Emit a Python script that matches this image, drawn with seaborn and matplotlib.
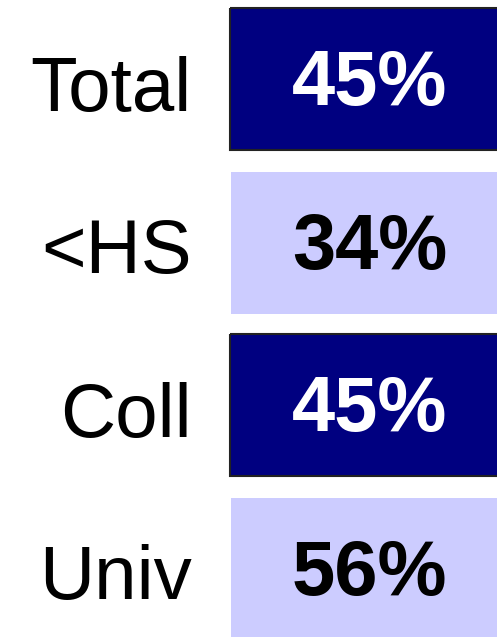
import numpy as np
import matplotlib
matplotlib.use('Agg')
import matplotlib.pyplot as plt
import matplotlib.transforms as mtransforms
from matplotlib.colors import ListedColormap
from matplotlib.patches import Rectangle
import seaborn as sns

# --- data ---
groups = ['Total', '<HS', 'Coll', 'Univ']
values = [45, 34, 45, 56]
shade = [1, 0, 1, 0]   # 1 = dark cell, 0 = light cell

navy = '#000080'
lavender = '#CCCCFF'

sns.set_theme(style='white')
plt.rcParams['font.family'] = ['Liberation Sans', 'DejaVu Sans']

W, H = 497, 637
fig = plt.figure(figsize=(W / 100, H / 100), dpi=100)

# axes in pixel terms (top-left origin), gaps drawn as white cell lines
gap = 21
left, top = 219.5, -2.5
ax_w, ax_h = 300.5, 652
ax = fig.add_axes([left / W, 1 - (top + ax_h) / H, ax_w / W, ax_h / H])

data = np.array(shade).reshape(-1, 1)
annot = np.array([f'{v}%' for v in values]).reshape(-1, 1)

sns.heatmap(data, ax=ax, cmap=ListedColormap([lavender, navy]), vmin=0, vmax=1,
            cbar=False, annot=annot, fmt='',
            annot_kws={'fontsize': 56, 'fontweight': 'bold'},
            linewidths=gap * 72 / 100, linecolor='white')

# nudge the texts down a little, as in the original slide
down_annot = mtransforms.ScaledTranslation(0, -0.06, fig.dpi_scale_trans)
for txt, s in zip(ax.texts, shade):
    txt.set_color('white' if s else 'black')
    txt.set_transform(txt.get_transform() + down_annot)

# thin dark border on the navy cells
ix = (gap / 2) / ax_w
iy = (gap / 2) / (ax_h / len(groups))
for i, s in enumerate(shade):
    if s:
        ax.add_patch(Rectangle((ix, i + iy), 1 - 2 * ix, 1 - 2 * iy, fill=False,
                               edgecolor='#222222', linewidth=1.5, zorder=5))

ax.set_yticklabels(groups, rotation=0, fontsize=55, color='black')
ax.set_xticks([])
ax.tick_params(axis='y', length=0, pad=20)
down_lab = mtransforms.ScaledTranslation(0, -0.12, fig.dpi_scale_trans)
for lab in ax.get_yticklabels():
    lab.set_transform(lab.get_transform() + down_lab)
ax.set_xlabel('')
ax.set_ylabel('')

fig.savefig('out.png', dpi=100)
